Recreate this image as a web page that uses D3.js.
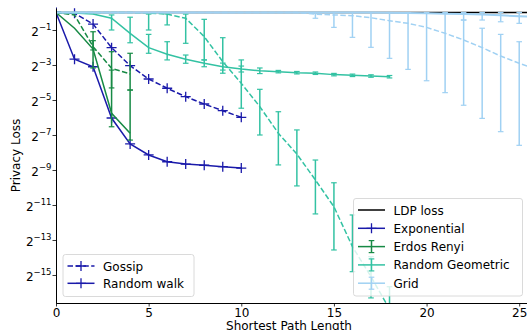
<!DOCTYPE html>
<html><head><meta charset="utf-8">
<script src="https://cdn.jsdelivr.net/npm/d3@7"></script>
<style>body{margin:0;background:#fff} text{font-family:"DejaVu Sans",sans-serif;fill:#000}</style>
</head><body><svg id="c" width="527" height="330"></svg>
<script>
// values are log2(privacy loss)
const hopsExp = [0,1,2,3,4,5,6,7,8,9,10];
const expGossip = [0,-0.05,-0.66,-2.01,-3.04,-3.80,-4.33,-4.81,-5.23,-5.61,-5.99];
const expWalk   = [0,-2.67,-3.10,-6.03,-7.51,-8.14,-8.53,-8.66,-8.73,-8.81,-8.89];

const hopsER = [0,1,2,3,4];
const erGossip   = [0,-0.14,-1.95,-3.19,-3.51];
const erGossipHi = [null,null,-1.10,-2.24,-2.33];
const erGossipLo = [null,null,-2.14,-4.31,-4.43];
const erWalk   = [0,-0.90,-2.09,-5.76,-6.90];
const erWalkHi = [null,null,-1.61,-3.29,-4.43];
const erWalkLo = [null,null,-3.17,-6.53,-7.29];

const hopsRG = [0,1,2,3,4,5,6,7,8,9,10,11,12,13,14,15,16,17,18];
const rgWalk   = [0,-0.03,-0.09,-0.33,-1.19,-2.01,-2.39,-2.67,-2.90,-3.10,-3.23,-3.33,-3.38,-3.44,-3.47,-3.55,-3.59,-3.63,-3.67];
const rgWalkHi = [null,null,null,-0.14,-0.27,-1.25,-1.67,-2.43,-2.71,-2.89,-3.06,-3.17,-3.31,-3.37,-3.40,-3.48,-3.52,-3.56,-3.60];
const rgWalkLo = [null,null,null,-1.00,-1.73,-2.33,-2.71,-2.90,-3.10,-3.29,-3.40,-3.49,-3.45,-3.51,-3.54,-3.62,-3.66,-3.70,-3.74];
const rgGossip   = [0,0,0,0,0,-0.03,-0.09,-0.33,-1.38,-2.81,-4.05,-5.38,-6.90,-8.09,-9.57,-11.10,-13.38,-15.10,-16.94];
const rgGossipHi = [null,null,null,null,null,-0.09,-0.09,-0.09,-0.39,-1.44,-2.71,-4.39,-5.67,-6.71,-8.43,-9.73,-11.57,-13.95,-15.67];
const rgGossipLo = [null,null,null,null,null,-1.00,-0.71,-1.76,-2.71,-3.47,-5.47,-7.00,-8.71,-9.91,-11.51,-13.57,-14.81,-16.31,-18.0];

const hopsGrid = [0,1,2,3,4,5,6,7,8,9,10,11,12,13,14,15,16,17,18,19,20,21,22,23,24,25,26];
const gridWalk   = [0,0,0,0,0,0,0,0,0,0,0,0,0,0,0,0,0,0,-0.01,-0.03,-0.05,-0.07,-0.09,-0.12,-0.16,-0.21,-0.27];
const gridWalkHi = [null,null,null,null,null,null,null,null,null,null,null,null,null,null,null,null,null,null,null,null,null,null,0,0,0,0,0];
const gridWalkLo = [null,null,null,null,null,null,null,null,null,null,null,null,null,null,null,null,null,null,null,null,null,null,-0.43,-0.43,-0.53,-0.62,-0.70];
const gridGossip   = [0,0,0,0,0,0,0,0,0,0,0,0,0,0,-0.09,-0.14,-0.18,-0.30,-0.47,-0.62,-0.85,-1.19,-1.57,-2.01,-2.49,-2.90,-3.29];
const gridGossipHi = [null,null,null,null,null,null,null,null,null,null,null,null,null,null,0,0,0,0,0,0,0,0,-0.43,-0.90,-1.25,-1.67,-2.00];
const gridGossipLo = [null,null,null,null,null,null,null,null,null,null,null,null,null,null,-0.33,-0.85,-1.42,-1.99,-2.62,-3.25,-3.90,-4.58,-5.30,-6.05,-6.81,-7.59,-8.30];

const hopsLDP = [0,26];
const ldpLoss = [0,0];

const yTickExps = [-1,-3,-5,-7,-9,-11,-13,-15];
const xTicks = [0,5,10,15,20,25];

const C = {exp:"#1a1aaa", er:"#178a45", rg:"#33c2a3", grid:"#a0d1f3", ldp:"#000"};

const svg = d3.select("#c");
const x = d3.scaleLinear().domain([0,25.42]).range([56,527]);
const y = d3.scaleLog().base(2).domain([Math.pow(2,0.257), Math.pow(2,-16.6)]).range([8,303]);

svg.append("defs").append("clipPath").attr("id","clip")
  .append("rect").attr("x",56).attr("y",7).attr("width",471).attr("height",296);
const plot = svg.append("g").attr("clip-path","url(#clip)");

const line = d3.line().x(d=>x(d[0])).y(d=>y(Math.pow(2,d[1])));
const DASH = "5.5,2.4";

function series(hops, vals, color, dashed, opts={}) {
  const pts = hops.map((h,i)=>[h,vals[i]]);
  const g = plot.append("g");
  if (opts.hi) {
    hops.forEach((h,i)=>{
      if (opts.hi[i]==null) return;
      const xx = x(h), y1 = y(Math.pow(2,opts.hi[i])), y2 = y(Math.pow(2,opts.lo[i]));
      g.append("line").attr("x1",xx).attr("x2",xx).attr("y1",y1).attr("y2",y2)
        .attr("stroke",color).attr("stroke-width",1.5);
      [y1,y2].forEach(yy=>g.append("line").attr("x1",xx-2.8).attr("x2",xx+2.8)
        .attr("y1",yy).attr("y2",yy).attr("stroke",color).attr("stroke-width",1.2));
    });
  }
  g.append("path").datum(pts).attr("d",line).attr("fill","none")
    .attr("stroke",color).attr("stroke-width",opts.lw||1.5)
    .attr("stroke-dasharray",dashed?DASH:null);
  if (opts.marker) {
    pts.forEach(p=>{
      const xx=x(p[0]), yy=y(Math.pow(2,p[1]));
      g.append("path").attr("d",`M${xx-5},${yy}H${xx+5}M${xx},${yy-5}V${yy+5}`)
        .attr("stroke",color).attr("stroke-width",1.3).attr("fill","none");
    });
  }
}

series(hopsLDP, ldpLoss, C.ldp, false);
series(hopsExp, expGossip, C.exp, true, {marker:true});
series(hopsExp, expWalk, C.exp, false, {marker:true});
series(hopsER, erGossip, C.er, true, {hi:erGossipHi, lo:erGossipLo});
series(hopsER, erWalk, C.er, false, {hi:erWalkHi, lo:erWalkLo});
series(hopsRG, rgGossip, C.rg, true, {hi:rgGossipHi, lo:rgGossipLo});
series(hopsRG, rgWalk, C.rg, false, {hi:rgWalkHi, lo:rgWalkLo});
series(hopsGrid, gridGossip, C.grid, true, {hi:gridGossipHi, lo:gridGossipLo});
series(hopsGrid, gridWalk, C.grid, false, {hi:gridWalkHi, lo:gridWalkLo, lw:2});

// axes
const xa = svg.append("g").attr("transform","translate(0,303)")
  .call(d3.axisBottom(x).tickValues(xTicks).tickSize(3.5).tickPadding(2).tickSizeOuter(0));
xa.selectAll("text").attr("font-size",12).attr("font-family","DejaVu Sans");
const ya = svg.append("g").attr("transform","translate(56,0)")
  .call(d3.axisLeft(y).tickValues(yTickExps.map(e=>Math.pow(2,e))).tickFormat(()=>"").tickSize(3.5).tickSizeOuter(0));
ya.selectAll(".tick").each(function(d){
  const e = Math.round(Math.log2(d));
  const t = d3.select(this).append("text").attr("x",-4.5).attr("y",5.5)
    .attr("text-anchor","end").attr("font-size",12).attr("fill","#000");
  t.append("tspan").text("2");
  t.append("tspan").attr("dy",-6).attr("font-size",8.5).text("\u2212"+Math.abs(e));
});
[xa,ya].forEach(a=>{a.select(".domain").attr("stroke","#000").attr("stroke-width",1);
  a.selectAll(".tick line").attr("stroke","#000").attr("stroke-width",0.8);});

svg.append("text").attr("x",289).attr("y",329.5).attr("text-anchor","middle")
  .attr("font-size",12).text("Shortest Path Length");
svg.append("text").attr("transform","translate(20,155.5) rotate(-90)")
  .attr("text-anchor","middle").attr("font-size",12).text("Privacy Loss");

// legends
function legend(x0,y0,w,h,items){
  const g = svg.append("g");
  g.append("rect").attr("x",x0).attr("y",y0).attr("width",w).attr("height",h).attr("rx",2.5)
    .attr("fill","#fff").attr("fill-opacity",0.8).attr("stroke","#d0d0d0").attr("stroke-width",0.8);
  items.forEach(it=>{
    const l1=x0+4.5, l2=x0+31.5, cx=(l1+l2)/2;
    g.append("line").attr("x1",l1).attr("x2",l2).attr("y1",it.y).attr("y2",it.y)
      .attr("stroke",it.color).attr("stroke-width",1.5).attr("stroke-dasharray",it.dashed?DASH:null);
    if (it.marker) g.append("path").attr("d",`M${cx-5},${it.y}H${cx+5}M${cx},${it.y-5}V${it.y+5}`)
      .attr("stroke",it.color).attr("stroke-width",1.3);
    if (it.err) {
      g.append("line").attr("x1",cx).attr("x2",cx).attr("y1",it.y-6).attr("y2",it.y+6)
        .attr("stroke",it.color).attr("stroke-width",1.5);
      [it.y-6,it.y+6].forEach(yy=>g.append("line").attr("x1",cx-2.8).attr("x2",cx+2.8)
        .attr("y1",yy).attr("y2",yy).attr("stroke",it.color).attr("stroke-width",1.2));
    }
    g.append("text").attr("x",x0+40).attr("y",it.y+4.5).attr("font-size",12).text(it.label);
  });
}
legend(63,254.5,131,42,[
  {label:"Gossip",color:C.exp,dashed:true,marker:true,y:266},
  {label:"Random walk",color:C.exp,dashed:false,marker:true,y:283.3}
]);
legend(353.5,198.5,169,97.5,[
  {label:"LDP loss",color:C.ldp,y:210},
  {label:"Exponential",color:C.exp,marker:true,y:228.3},
  {label:"Erdos Renyi",color:C.er,err:true,y:246.6},
  {label:"Random Geometric",color:C.rg,err:true,y:264.9},
  {label:"Grid",color:C.grid,err:true,y:283.2}
]);
</script></body></html>
